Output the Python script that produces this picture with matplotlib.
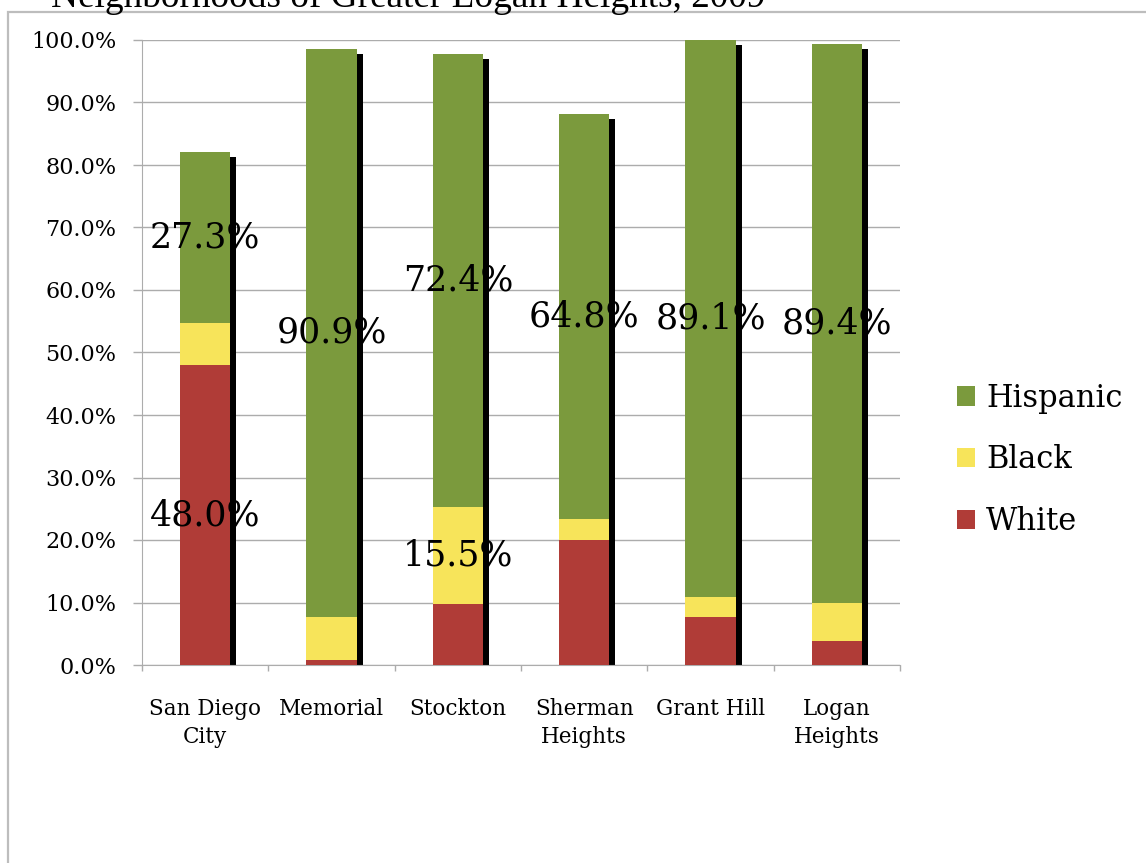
import matplotlib
matplotlib.use("Agg")
import matplotlib.pyplot as plt
from matplotlib.patches import Rectangle
from matplotlib.ticker import FuncFormatter, FixedLocator
import numpy as np

# data (percent of population)
neighborhoods = ["San Diego\nCity", "Memorial", "Stockton", "Sherman\nHeights", "Grant Hill", "Logan\nHeights"]
white = [48.0, 0.8, 9.8, 20.0, 7.7, 3.8]
black = [6.7, 6.9, 15.5, 3.4, 3.2, 6.2]
hispanic = [27.3, 90.9, 72.4, 64.8, 89.1, 89.4]
# which segments carry a value label in the original
show_white = [True, False, False, False, False, False]
show_black = [False, False, True, False, False, False]
show_hispanic = [True, True, True, True, True, True]
y_ticks = [0, 10, 20, 30, 40, 50, 60, 70, 80, 90, 100]

c_hisp = "#7b9a3d"
c_black = "#f7e45a"
c_white = "#b03c37"
grid_c = "#acacac"
serif = "DejaVu Serif"

W, H = 1146, 863
fig = plt.figure(figsize=(W / 100, H / 100), dpi=100)
fig.patch.set_facecolor("white")

# outer chart frame (runs off the right and bottom edge)
fig.patches.append(Rectangle((8 / W, -0.05), 1.2, 1.05 - 12 / H, transform=fig.transFigure,
                             fill=False, edgecolor="#bdbdbd", linewidth=1.6))

# title, cut off by the top edge like in the source image
fig.text(51 / W, 1 - 7 / H, "Neighborhoods of Greater Logan Heights, 2009", family="Liberation Serif",
         fontsize=26.8, va="baseline", ha="left")

ax = fig.add_axes([142 / W, 1 - 665 / H, (900 - 142) / W, (665 - 40) / H])

x = np.arange(len(neighborhoods))
white = np.array(white)
black = np.array(black)
hispanic = np.array(hispanic)
totals = white + black + hispanic
bw = 0.40

# black drop shadow behind each stack
ax.bar(x + 0.047, totals - 0.8, bw, color="black", zorder=2)
ax.bar(x, white, bw, color=c_white, label="White", zorder=3)
ax.bar(x, black, bw, bottom=white, color=c_black, label="Black", zorder=3)
ax.bar(x, hispanic, bw, bottom=white + black, color=c_hisp, label="Hispanic", zorder=3)

for i in range(len(x)):
    if show_white[i]:
        ax.text(x[i], white[i] / 2, "%.1f%%" % white[i], ha="center", va="center",
                family=serif, fontsize=25, zorder=5)
    if show_black[i]:
        ax.text(x[i], white[i] + black[i] / 2, "%.1f%%" % black[i], ha="center", va="center",
                family=serif, fontsize=25, zorder=5)
    if show_hispanic[i]:
        ax.text(x[i], white[i] + black[i] + hispanic[i] / 2, "%.1f%%" % hispanic[i], ha="center",
                va="center", family=serif, fontsize=25, zorder=5)

ax.set_xlim(-0.5, len(x) - 0.5)
ax.set_ylim(0, 100)
ax.set_yticks(y_ticks)
ax.yaxis.set_major_formatter(FuncFormatter(lambda v, p: "%.1f%%" % v))
ax.yaxis.grid(True, color=grid_c, linewidth=1.0, zorder=0)
ax.set_axisbelow(True)
ax.tick_params(axis="y", length=6.5, width=1.0, color=grid_c, pad=12, labelsize=16)
for lab in ax.get_yticklabels():
    lab.set_family(serif)

ax.set_xticks(x)
ax.set_xticklabels(neighborhoods, family=serif, fontsize=15.5, linespacing=1.35)
ax.xaxis.set_minor_locator(FixedLocator(np.arange(-0.5, len(x), 1.0)))
ax.tick_params(axis="x", which="major", length=0, pad=24)
ax.tick_params(axis="x", which="minor", length=4, width=1.0, color=grid_c)

for s in ["top", "right"]:
    ax.spines[s].set_visible(False)
ax.spines["left"].set_color(grid_c)
ax.spines["bottom"].set_color(grid_c)

h, l = ax.get_legend_handles_labels()
fig.legend(h[::-1], l[::-1], loc="center left", bbox_to_anchor=(957 / W, 1 - 460 / H), frameon=False,
           prop={"family": serif, "size": 22}, handlelength=0.6, handleheight=0.6,
           handletextpad=0.35, labelspacing=1.0, borderpad=0, borderaxespad=0)

fig.savefig("out.png", dpi=100)
